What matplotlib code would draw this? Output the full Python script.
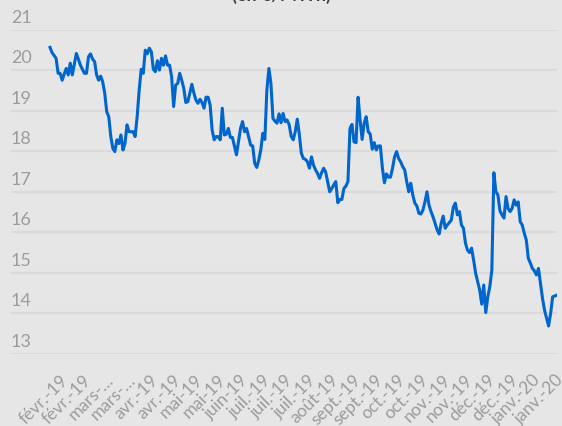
import numpy as np
import matplotlib
matplotlib.use("Agg")
import matplotlib.pyplot as plt
from matplotlib.transforms import ScaledTranslation, blended_transform_factory

# prix journaliers (en €/MWh)
prix = [
    20.56, 20.43, 20.36, 20.29, 19.92, 19.92, 19.75, 19.90, 20.04, 19.88,
    20.17, 19.88, 20.15, 20.41, 20.27, 20.12, 20.02, 19.92, 19.92, 20.33,
    20.40, 20.27, 20.21, 19.88, 19.75, 19.85, 19.71, 19.43, 18.97, 18.85,
    18.36, 18.07, 17.99, 18.28, 18.19, 18.40, 18.03, 18.19, 18.65, 18.48,
    18.48, 18.48, 18.36, 18.85, 19.51, 20.02, 19.92, 20.49, 20.40, 20.54,
    20.45, 20.02, 19.96, 20.23, 20.00, 20.29, 20.12, 20.35, 20.12, 20.12,
    19.84, 19.10, 19.63, 19.67, 19.92, 19.75, 19.55, 19.20, 19.22, 19.43,
    19.65, 19.43, 19.26, 19.18, 19.28, 19.20, 19.06, 19.33, 19.33, 19.14,
    18.52, 18.28, 18.36, 18.36, 18.28,
    19.06, 18.40, 18.42, 18.56, 18.34, 18.34, 18.13, 17.91, 18.23, 18.56,
    18.73, 18.48, 18.56, 18.36, 18.15, 18.13, 17.70, 17.60, 17.78, 18.03,
    18.44, 18.29, 19.51, 20.04, 19.67, 18.81, 18.74, 18.69, 18.92, 18.70,
    18.93, 18.73, 18.77, 18.65, 18.37, 18.28, 18.48, 18.79, 18.42, 17.95,
    17.82, 17.80, 17.74, 17.58, 17.86, 17.66, 17.54, 17.45, 17.33, 17.47,
    17.58, 17.49, 17.25, 17.00, 17.08, 17.17, 17.25, 16.73, 16.81, 16.81,
    17.08, 17.14, 17.25, 18.56, 18.66, 18.23, 18.21, 19.33, 18.77, 18.29,
    18.69, 18.85, 18.48, 18.42, 18.05, 18.21, 18.03, 18.13, 18.13, 17.58,
    17.22, 17.44, 17.36,
    17.36, 17.58, 17.86, 17.99, 17.82, 17.74, 17.62, 17.54, 17.25, 17.00,
    17.21, 16.92, 16.72, 16.65, 16.47, 16.45, 16.55, 16.75, 17.00, 16.67,
    16.51, 16.38, 16.22, 16.06, 15.96, 16.22, 16.40, 16.10, 16.18, 16.24,
    16.30, 16.62, 16.72, 16.43, 16.51, 16.18, 16.10, 15.73, 15.56, 15.50,
    15.61, 15.32, 14.99, 14.78, 14.58, 14.23, 14.70, 14.02, 14.41, 14.66,
    15.07, 17.47, 17.00, 16.92, 16.53, 16.43, 16.35, 16.88, 16.59, 16.51,
    16.59, 16.80, 16.67, 16.75, 16.26, 16.18, 15.98, 15.81, 15.36, 15.24,
    15.11, 15.05, 14.95, 15.11, 14.74, 14.37, 14.08, 13.88, 13.69, 14.00,
    14.41, 14.43, 14.45,
]

mois = ["févr.-19", "févr.-19", "mars-…", "mars-…", "avr.-19", "avr.-19",
        "mai-19", "mai-19", "juin-19", "juil.-19", "juil.-19", "juil.-19",
        "août-19", "sept.-19", "sept.-19", "oct.-19", "oct.-19", "nov.-19",
        "nov.-19", "déc.-19", "déc.-19", "janv.-20", "janv.-20"]

y_ticks = [13, 14, 15, 16, 17, 18, 19, 20, 21]

bg = "#e6e6e6"
gris = "#9c9c9c"
plt.rcParams["font.family"] = ["Lato", "DejaVu Sans"]

W, H = 562, 426
fig = plt.figure(figsize=(W / 100, H / 100), dpi=100, facecolor=bg)
# zone de tracé en pixels : x 11..557, y 29.5..354
ax = fig.add_axes([11 / W, 1 - 354 / H, (557 - 11) / W, (354 - 29.5) / H])
ax.set_facecolor(bg)

n = len(prix)
x = np.arange(n)
s = (556.7 - 50) / (n - 1)          # pixels par point
ax.set_xlim(-(50 - 11) / s, (n - 1) + 0.3 / s)
ax.set_ylim(13, 21)

for v in y_ticks:
    ax.axhline(v, color="#dadada", lw=1.6, zorder=1)

ax.plot(x, prix, color="#0066cc", lw=2.2, zorder=3, solid_joinstyle="round")

# étiquettes de l'axe y au-dessus des lignes de grille
tr = blended_transform_factory(ax.transAxes, ax.transData)
for v in y_ticks:
    ax.text(0.0, v, str(v), transform=tr + ScaledTranslation(0, 5 / 72, fig.dpi_scale_trans),
            ha="left", va="baseline", fontsize=13, color=gris)

ax.set_yticks([])
pos = np.linspace((57 - 50) / s, (552 - 50) / s, len(mois))
ax.set_xticks(pos)
ax.set_xticklabels(mois, rotation=45, ha="right", va="top",
                   rotation_mode="anchor", fontsize=12.5, color=gris)
ax.tick_params(axis="x", length=0, pad=13)
off = ScaledTranslation(3 / 100, 0, fig.dpi_scale_trans)
for lab in ax.get_xticklabels():
    lab.set_transform(lab.get_transform() + off)

for sp in ax.spines.values():
    sp.set_visible(False)

# titre (coupé en haut de l'image)
fig.text(281 / W, 1.0 - 1 / H, "(en €/MWh)", ha="center", va="baseline",
         fontsize=13, fontweight="bold", color="#404040")

fig.savefig("out.png", dpi=100, facecolor=bg)
